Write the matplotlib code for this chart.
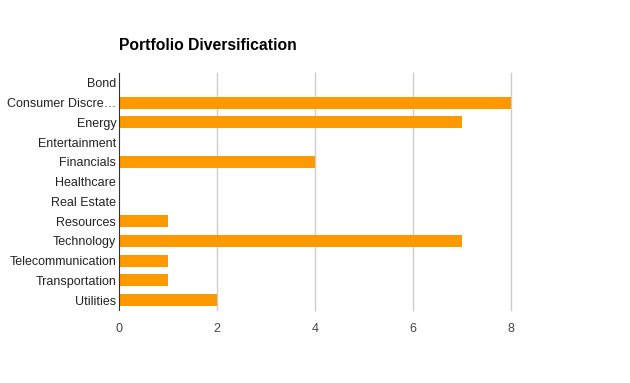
import matplotlib
matplotlib.use("Agg")
import matplotlib.pyplot as plt

categories = ["Bond", "Consumer Discre\u2026", "Energy", "Entertainment",
              "Financials", "Healthcare", "Real Estate", "Resources",
              "Technology", "Telecommunication", "Transportation", "Utilities"]
values = [0, 8, 7, 0, 4, 0, 0, 1, 7, 1, 1, 2]
xticks = [0, 2, 4, 6, 8]

plt.rcParams["font.family"] = ["Liberation Sans", "DejaVu Sans"]

fig = plt.figure(figsize=(6.3, 3.83), dpi=100)
ax = fig.add_axes([119 / 630, 1 - 310 / 383, 392 / 630, 237 / 383])

ypos = list(range(len(categories)))
ax.barh(ypos, values, height=0.62, color="#ff9900", zorder=2)
ax.set_ylim(len(categories) - 0.5, -0.5)
ax.set_xlim(0, 8)

ax.set_yticks(ypos)
ax.set_yticklabels(categories, fontsize=9, color="#222222")
ax.set_xticks(xticks)
ax.set_xticklabels([str(t) for t in xticks], fontsize=9, color="#444444")
ax.tick_params(axis="both", length=0)
ax.tick_params(axis="x", pad=9)
ax.tick_params(axis="y", pad=2)

# gridlines drawn manually so the one at the right edge isn't clipped
for t in xticks[1:]:
    ax.axvline(t, color="#cccccc", lw=1, zorder=0, clip_on=False)
for side in ["top", "right", "bottom"]:
    ax.spines[side].set_visible(False)
ax.spines["left"].set_color("#333333")
ax.spines["left"].set_zorder(3)

fig.text(119 / 630, 1 - 45 / 383, "Portfolio Diversification",
         fontsize=11.3, fontweight="bold", ha="left", va="center")

fig.savefig("out.png", dpi=100)
